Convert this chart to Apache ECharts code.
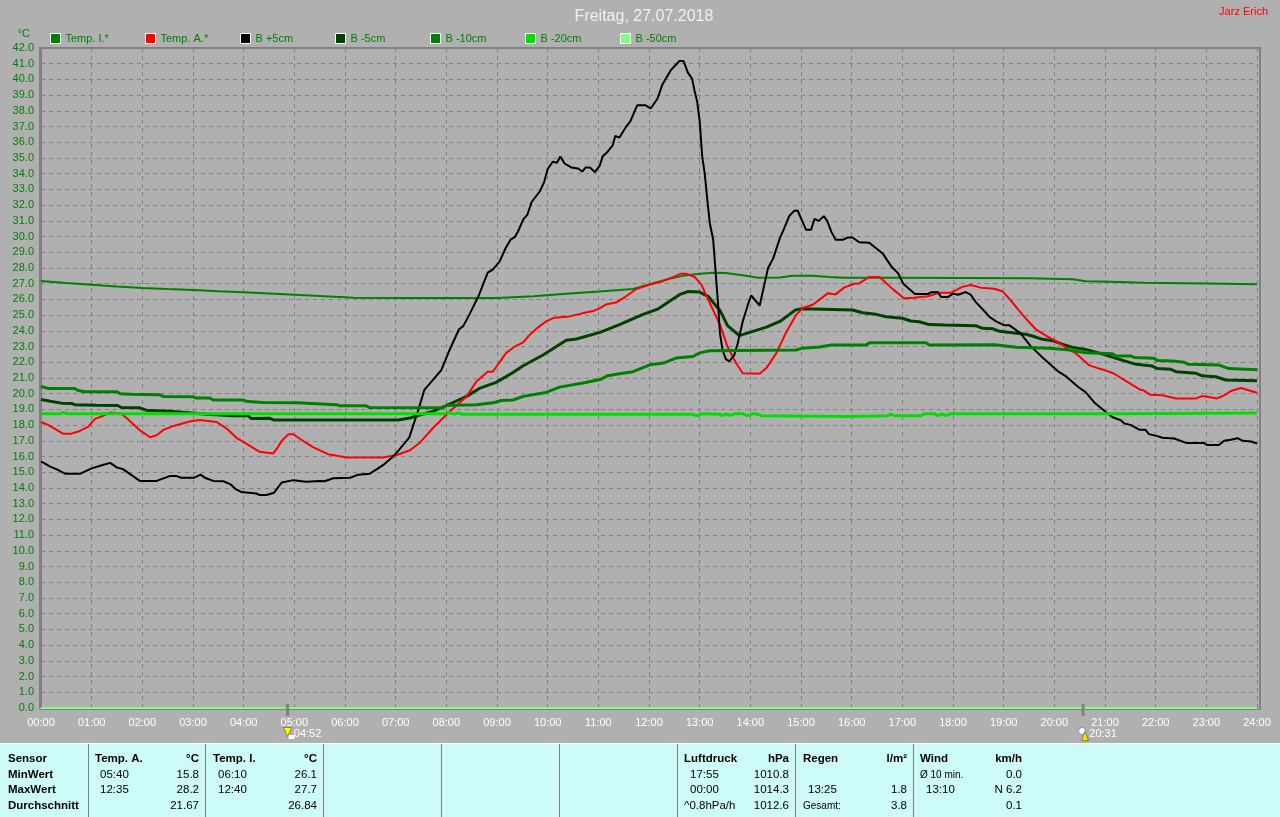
<!DOCTYPE html>
<html>
<head>
<meta charset="utf-8">
<title>Freitag, 27.07.2018</title>
<script src="https://cdn.jsdelivr.net/npm/echarts@6/dist/echarts.min.js"></script>
<style>
    html, body { margin: 0; padding: 0; background: #b0b0b0; }
    #chart { width: 1280px; height: 817px; }
</style>
</head>
<body>
<div id="chart"></div>
<script>
    // all series are [minute of day, deg C]
    let tempI = [[0,27.18],[30,27.05],[60,26.93],[90,26.82],[120,26.73],[150,26.66],[180,26.6],[210,26.52],[240,26.45],[270,26.38],[300,26.3],[330,26.22],[360,26.14],[370,26.1],
        [425,26.09],[540,26.09],[583,26.2],[622,26.36],[661,26.5],[701,26.66],[740,27.26],[760,27.5],[780,27.64],[796,27.7],[811,27.68],[835,27.5],[849,27.38],[875,27.4],[890,27.5],[914,27.5],[934,27.43],[951,27.38],[1012,27.38],
        [1170,27.34],[1172,27.28],[1222,27.28],[1237,27.15],[1267,27.13],[1269,27.06],[1306,27.06],[1308,27.02],[1381,27.02],[1383,26.96],[1440,26.96]];
    let tempA = [[0,18.2],[9,18],[17,17.75],[26,17.46],[36,17.46],[46,17.63],[56,17.9],[64,18.4],[74,18.6],[82,18.8],[95,18.74],[103,18.38],[117,17.68],[129,17.23],[137,17.36],[145,17.7],[157,17.95],[176,18.23],[188,18.33],[208,18.2],[220,17.78],[232,17.17],[243,16.83],[259,16.3],[275,16.2],[279,16.47],[285,17],[293,17.42],[299,17.42],[306,17.15],[322,16.6],[340,16.15],[362,15.94],[405,15.94],[421,16.1],[437,16.4],[449,16.9],[464,17.8],
        [484,18.87],[504,19.83],[516,20.8],[529,21.4],[535,21.4],[551,22.6],[561,23],[571,23.27],[577,23.65],[589,24.24],[598,24.6],[608,24.84],[626,24.92],[642,25.13],[654,25.26],[662,25.45],[670,25.7],[681,25.8],[693,26.2],[705,26.66],[721,26.94],[736,27.15],[752,27.5],[758,27.64],[764,27.64],[774,27.43],[782,26.94],[792,25.77],[804,24.4],[813,23],[823,21.95],[831,21.3],[851,21.27],[859,21.63],[871,22.6],[882,23.86],[894,25],[902,25.45],[914,25.66],[932,26.4],[941,26.32],[951,26.75],[963,27],[969,27.02],[981,27.43],[993,27.43],[1009,26.64],[1022,26.07],[1034,26.1],[1050,26.2],[1064,26.43],[1078,26.43],[1091,26.8],[1101,26.92],[1113,26.75],[1129,26.68],[1139,26.5],[1149,25.9],[1157,25.37],[1166,24.8],[1178,24.1],[1190,23.7],[1202,23.35],[1214,22.93],[1226,22.55],[1241,21.82],[1253,21.6],[1263,21.44],[1271,21.27],[1285,20.8],[1301,20.27],[1306,20.2],[1314,19.93],[1328,19.9],[1344,19.7],[1368,19.7],[1375,19.85],[1393,19.7],[1401,19.9],[1409,20.17],[1421,20.36],[1431,20.2],[1440,20.06]];
    let bPlus5 = [[0,15.7],[11,15.36],[20,15.15],[29,14.9],[46,14.9],[60,15.25],[72,15.45],[82,15.6],[90,15.3],[97,15.2],[117,14.45],[137,14.45],[153,14.77],[160,14.77],[166,14.65],[181,14.65],[189,14.85],[194,14.65],[204,14.45],[216,14.43],[224,14.25],[230,13.95],[237,13.75],[255,13.65],[259,13.55],[267,13.55],[276,13.7],[285,14.35],[299,14.5],[314,14.4],[330,14.45],[336,14.43],[346,14.62],[366,14.65],[376,14.85],[389,14.9],[405,15.45],[417,16],[423,16.36],[436,17.2],[447,19],[454,20.25],[474,21.5],[484,22.8],[495,24.1],[500,24.3],[507,25],[518,26.2],[529,27.7],[535,27.9],[543,28.4],[550,29.24],
        [556,29.8],[561,29.96],[565,30.34],[571,31.08],[576,31.4],[581,32.2],[591,32.9],[596,33.5],[600,34.3],[606,34.76],[611,34.7],[615,35.1],[620,34.65],[628,34.4],[636,34.33],[641,34.14],[645,34.4],[650,34.4],[656,34.1],[662,34.55],[665,35.1],[671,35.4],[677,35.8],[680,36.4],[685,36.3],[693,37],[698,37.35],[706,38.35],[716,38.35],[722,38.15],[730,38.77],[736,39.7],[746,40.6],[756,41.17],[761,41.17],[766,40.43],[771,40.05],[774,39.26],[777,38.6],[780,37.35],[783,35.1],[786,34],[789,32.36],[792,30.85],[796,29.8],
        [799,27.67],[802,25.55],[804,23.85],[807,22.8],[811,22.2],[815,22.06],[821,22.46],[825,23.2],[831,24.6],[837,25.65],[841,26.25],[851,25.6],[856,26.8],[861,28],[867,28.6],[875,29.9],[880,30.5],[886,31.3],[892,31.64],[896,31.66],[906,30.43],[912,30.43],[916,31.13],[921,31],[927,31.3],[931,31],[936,30.3],[941,29.8],[950,29.8],[955,29.94],[961,29.94],[969,29.64],[981,29.6],[989,29.26],[997,28.9],[1007,28.1],[1015,27.67],[1021,27],[1035,26.34],[1050,26.34],[1054,26.45],[1062,26.47],[1066,26.15],[1074,26.15],[1080,26.37],[1086,26.3],[1095,26.47],[1101,26.3],[1107,25.83],[1119,25.15],[1123,24.9],[1131,24.6],[1141,24.35],[1147,24.35],[1160,23.84],[1172,23.03],[1186,22.3],[1204,21.44],[1214,21.1],[1228,20.44],[1237,20.1],[1247,19.46],[1261,18.83],[1269,18.5],[1279,18.3],[1283,18.1],[1291,18],[1301,17.7],[1308,17.7],[1312,17.43],[1322,17.3],[1328,17.2],[1342,17.15],[1356,16.87],[1377,16.87],[1381,16.73],[1395,16.73],[1401,17],[1409,17.07],[1417,17.17],[1423,17],[1433,16.96],[1440,16.83]];
    let bMinus5 = [[0,19.63],[11,19.52],[24,19.4],[36,19.38],[40,19.3],[66,19.27],[91,19.25],[95,19.12],[117,19.1],[125,18.95],[153,18.89],[196,18.7],[228,18.6],[245,18.6],[249,18.42],[271,18.44],[275,18.33],[423,18.33],[437,18.45],[445,18.6],[464,18.87],[480,19.25],[504,19.83],[520,20.36],[539,20.72],[559,21.35],[571,21.78],[595,22.48],[622,23.4],[634,23.48],[662,23.9],[685,24.4],[713,25.05],[731,25.4],[756,26.3],[766,26.5],[780,26.47],[790,26.2],[804,25.3],[813,24.33],[827,23.7],[859,24.24],[875,24.6],[894,25.35],[902,25.4],[961,25.33],[973,25.15],[989,25.05],[1001,24.9],[1020,24.8],[1030,24.63],[1040,24.58],[1052,24.4],[1070,24.37],[1107,24.33],[1115,24.16],[1127,24.14],[1135,23.97],[1166,23.78],[1174,23.67],[1186,23.46],[1200,23.35],[1210,23.14],[1222,22.95],[1237,22.82],[1261,22.46],[1281,22.12],[1297,21.87],[1316,21.76],[1322,21.6],[1338,21.55],[1344,21.4],[1368,21.3],[1375,21.14],[1391,21.08],[1403,20.87],[1440,20.83]];
    let bMinus10 = [[0,20.46],[9,20.33],[40,20.33],[44,20.2],[52,20.12],[90,20.12],[94,20],[107,19.97],[141,19.93],[145,19.82],[180,19.8],[184,19.72],[200,19.72],[204,19.6],[239,19.6],[245,19.5],[263,19.44],[303,19.42],[305,19.32],[350,19.3],[354,19.23],[385,19.23],[389,19.12],[476,19.1],[480,19.25],[516,19.3],[537,19.44],[545,19.57],[559,19.6],[571,19.83],[598,20.08],[614,20.42],[642,20.68],[662,20.9],[671,21.14],[685,21.27],[701,21.4],[721,21.84],[737,21.95],[752,22.27],[772,22.37],[780,22.6],[792,22.73],[894,22.78],[902,22.9],[922,22.97],[936,23.1],[977,23.1],[981,23.24],[1048,23.24],[1052,23.1],[1129,23.12],[1131,23],[1155,22.95],[1157,22.9],[1194,22.9],[1196,22.82],[1218,22.78],[1237,22.6],[1269,22.55],[1273,22.4],[1291,22.4],[1295,22.3],[1318,22.25],[1322,22.12],[1340,22.08],[1354,22],[1358,21.88],[1395,21.82],[1407,21.6],[1440,21.52]];
    let bMinus20 = [[0,18.72],[22,18.72],[26,18.8],[32,18.72],[476,18.72],[484,18.8],[489,18.7],[494,18.78],[498,18.7],[770,18.7],[777,18.6],[782,18.72],[804,18.7],[807,18.6],[811,18.72],[816,18.62],[821,18.72],[831,18.72],[837,18.6],[843,18.72],[847,18.72],[853,18.6],[957,18.55],[1003,18.6],[1006,18.7],[1011,18.6],[1042,18.6],[1046,18.72],[1058,18.72],[1062,18.6],[1067,18.72],[1072,18.6],[1076,18.72],[1275,18.72],[1277,18.78],[1440,18.78]];
    let bMinus50 = [[0,0],[1440,0]];

    let seriesNames = ['Temp. I.*', 'Temp. A.*', 'B +5cm', 'B -5cm', 'B -10cm', 'B -20cm', 'B -50cm'];
    let seriesData = [tempI, tempA, bPlus5, bMinus5, bMinus10, bMinus20, bMinus50];
    let seriesColors = ['#008000', '#ff0000', '#000000', '#004000', '#008000', '#00e000', '#80ff80'];
    let lineWidths = [2, 2, 2, 3, 3, 3, 2];
    let drawOrder = [2, 4, 5, 3, 6, 7, 8];

    // sunrise and sunset
    let sunMinutes = [292, 1234];
    let sunLabels = ['04:52', '20:31'];

    // the stats table, one list per text column
    let sensorCol = ['Sensor', 'MinWert', 'MaxWert', 'Durchschnitt'];
    let tempATimes = ['Temp. A.', '05:40', '12:35', ''];
    let tempAVals = ['°C', '15.8', '28.2', '21.67'];
    let tempITimes = ['Temp. I.', '06:10', '12:40', ''];
    let tempIVals = ['°C', '26.1', '27.7', '26.84'];
    let druckTimes = ['Luftdruck', '17:55', '00:00', '^0.8hPa/h'];
    let druckVals = ['hPa', '1010.8', '1014.3', '1012.6'];
    let regenTimes = ['Regen', '', '13:25', 'Gesamt:'];
    let regenVals = ['l/m²', '', '1.8', '3.8'];
    let windTimes = ['Wind', 'Ø 10 min.', '13:10', ''];
    let windVals = ['km/h', '0.0', 'N 6.2', '0.1'];

    let tableColumns = [
        {rows: sensorCol, x: 8, bold: [0, 1, 2, 3]},
        {rows: tempATimes, x: 95, indent: 5, bold: [0]},
        {rows: tempAVals, x: 199, right: true, bold: [0]},
        {rows: tempITimes, x: 213, indent: 5, bold: [0]},
        {rows: tempIVals, x: 317, right: true, bold: [0]},
        {rows: druckTimes, x: 684, indent: 6, bold: [0]},
        {rows: druckVals, x: 789, right: true, bold: [0]},
        {rows: regenTimes, x: 803, indent: 5, bold: [0]},
        {rows: regenVals, x: 907, right: true, bold: [0]},
        {rows: windTimes, x: 920, indent: 6, bold: [0]},
        {rows: windVals, x: 1022, right: true, bold: [0]}
    ];
    let rowY = [759, 775, 790, 806];
    let separators = [88, 205, 323, 441, 559, 677, 795, 913];

    function pad(n) {
        return n < 10 ? '0' + n : '' + n;
    }

    function buildGraphic() {
        let items = [];
        // panel below the chart
        items.push({type: 'rect', shape: {x: 0, y: 743, width: 1280, height: 1}, style: {fill: '#ffffff'}});
        items.push({type: 'rect', shape: {x: 0, y: 744, width: 1280, height: 73}, style: {fill: '#ccfbf8'}});
        separators.forEach((x)=> {
            items.push({type: 'rect', z: 101, shape: {x: x, y: 744, width: 1, height: 73}, style: {fill: '#808080'}});
        });
        tableColumns.forEach((col)=> {
            col.rows.forEach((t, i)=> {
                if (t === '') return;
                let bold = col.bold.indexOf(i) >= 0;
                let small = t === 'Gesamt:' || t === 'Ø 10 min.';
                let x = col.right ? col.x : col.x + (i > 0 && col.indent && t[0] >= '0' && t[0] <= '9' ? col.indent : 0);
                items.push({
                    type: 'text', z: 101, x: x, y: rowY[i],
                    style: {
                        text: t, fill: '#000000', align: col.right ? 'right' : 'left', verticalAlign: 'middle',
                        font: (bold ? 'bold ' : '') + (small ? '10px' : '11.5px') + ' "Liberation Sans"'
                    }
                });
            });
        });
        // plot frame
        items.push({type: 'rect', shape: {x: 39, y: 47, width: 3, height: 661}, style: {fill: '#808080'}});
        items.push({type: 'rect', shape: {x: 39, y: 47, width: 1222, height: 2}, style: {fill: '#808080'}});
        items.push({type: 'rect', shape: {x: 1259, y: 47, width: 2, height: 663}, style: {fill: '#808080'}});
        items.push({type: 'rect', shape: {x: 39, y: 709, width: 1222, height: 1}, style: {fill: '#808080'}});
        items.push({
            type: 'text', x: 1268, y: 12,
            style: {text: 'Jarz Erich', fill: '#ff0000', align: 'right', verticalAlign: 'middle', font: '11px "Liberation Sans"'}
        });
        return items;
    }

    function sunMarks() {
        let marks = [];
        sunMinutes.forEach((m, i)=> {
            marks.push({coord: [m, 0], symbol: 'rect', symbolSize: [3, 12], symbolOffset: [0, 2], itemStyle: {color: '#808080'}, label: {show: false}});
            marks.push({
                coord: [m, 0], symbol: 'rect', symbolSize: [1, 1], symbolOffset: [20, 26],
                itemStyle: {color: 'transparent'},
                label: {show: true, position: 'inside', formatter: sunLabels[i], color: '#ffffff', fontSize: 11, fontFamily: 'Liberation Sans'}
            });
            if (i === 0) {
                marks.push({coord: [m, 0], symbol: 'rect', symbolSize: [6, 4], symbolOffset: [4, 29], itemStyle: {color: '#ffffff'}, label: {show: false}});
                marks.push({coord: [m, 0], symbol: 'triangle', symbolRotate: 180, symbolSize: [8, 9], symbolOffset: [0, 24], itemStyle: {color: '#ffff00', borderColor: '#404000', borderWidth: 0.5}, label: {show: false}});
            } else {
                marks.push({coord: [m, 0], symbol: 'circle', symbolSize: 7, symbolOffset: [-1, 23], itemStyle: {color: '#ffffff', borderColor: '#4040c0', borderWidth: 0.5}, label: {show: false}});
                marks.push({coord: [m, 0], symbol: 'triangle', symbolSize: [7, 9], symbolOffset: [2, 28], itemStyle: {color: '#ffe000', borderColor: '#404000', borderWidth: 0.5}, label: {show: false}});
            }
        });
        return marks;
    }

    let myChart = echarts.init(document.getElementById('chart'), null, {renderer: 'canvas'});
    let series = seriesNames.map((name, i)=> {
        return {
            name: name,
            type: 'line',
            data: seriesData[i],
            symbol: 'none',
            smooth: false,
            clip: false,
            z: drawOrder[i],
            silent: true,
            animation: false,
            lineStyle: {color: seriesColors[i], width: lineWidths[i]},
            itemStyle: {color: seriesColors[i]}
        };
    });
    series[6].markPoint = {silent: true, animation: false, z: 20, data: sunMarks()};

    // one legend per entry, the items sit at an even spacing in the original
    let legends = seriesNames.map((name, i)=> {
        return {
            left: 50 + 95 * i,
            top: 33,
            padding: 0,
            itemWidth: 10,
            itemHeight: 10,
            icon: 'rect',
            selectedMode: false,
            itemStyle: {borderColor: '#ffffff', borderWidth: 1},
            textStyle: {color: '#008000', fontSize: 11, fontFamily: 'Liberation Sans'},
            data: [name]
        };
    });

    let option = {
        backgroundColor: '#b0b0b0',
        animation: false,
        textStyle: {fontFamily: 'Liberation Sans'},
        title: {
            text: 'Freitag, 27.07.2018',
            left: 639,
            top: 4,
            textAlign: 'center',
            textStyle: {color: '#f0f0f0', fontSize: 16, fontWeight: 'normal', fontFamily: 'Liberation Sans'}
        },
        legend: legends,
        grid: {left: 41, right: 23, top: 48, bottom: 109},
        xAxis: {
            type: 'value',
            min: 0,
            max: 1440,
            interval: 60,
            axisLine: {show: false},
            axisTick: {show: false},
            axisLabel: {
                color: '#ffffff',
                fontSize: 11,
                margin: 9,
                hideOverlap: false,
                showMinLabel: true,
                showMaxLabel: true,
                formatter: (v)=> pad(v / 60) + ':00'
            },
            splitLine: {show: true, lineStyle: {color: '#808080', type: [4, 4], width: 1}}
        },
        yAxis: {
            type: 'value',
            min: 0,
            max: 42,
            interval: 1,
            name: '°C',
            nameLocation: 'end',
            nameGap: 9,
            nameTextStyle: {color: '#008000', fontSize: 11, align: 'right', padding: [0, 11, 0, 0]},
            axisLine: {show: false},
            axisTick: {show: false},
            axisLabel: {color: '#008000', fontSize: 11, margin: 7, showMinLabel: true, showMaxLabel: true, formatter: (v)=> v.toFixed(1)},
            splitLine: {show: true, lineStyle: {color: '#808080', type: [4, 4], width: 1}}
        },
        series: series,
        graphic: buildGraphic()
    };
    myChart.setOption(option);
</script>
</body>
</html>
